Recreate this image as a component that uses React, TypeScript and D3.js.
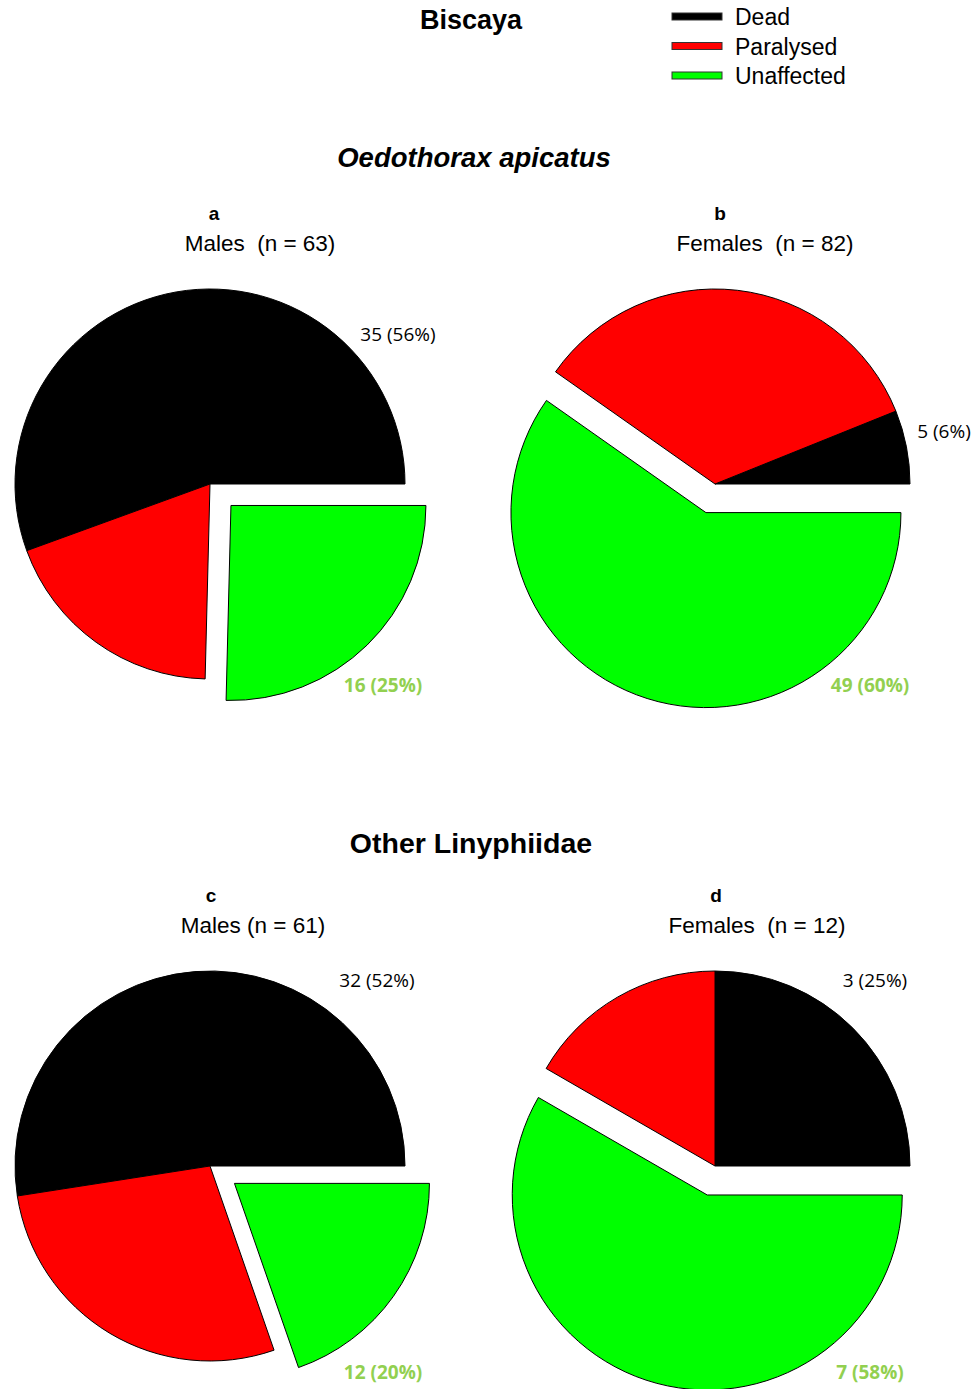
import React from "react";
import * as d3 from "d3";

// Outcome categories and colours
const categories = ["Dead", "Paralysed", "Unaffected"];
const colors = ["#000000", "#FF0000", "#00FF00"];

// Counts per panel (Dead, Paralysed, Unaffected)
const oedoMales = [35, 12, 16];
const oedoFemales = [5, 28, 49];
const otherMales = [32, 17, 12];
const otherFemales = [3, 2, 7];

const panelLetters = ["a", "b", "c", "d"];
const panelTitles = ["Males  (n = 63)", "Females  (n = 82)", "Males (n = 61)", "Females  (n = 12)"];
const deadLabels = ["35 (56%)", "5 (6%)", "32 (52%)", "3 (25%)"];
const unaffectedLabels = ["16 (25%)", "49 (60%)", "12 (20%)", "7 (58%)"];

const W = 977;
const H = 1389;
const R = 195;
const EXPLODE = 30;

type Panel = {
  values: number[];
  cx: number;
  cy: number;
  letterX: number;
  titleX: number;
  deadPos: [number, number];
  unPos: [number, number];
};

const panels: Panel[] = [
  { values: oedoMales, cx: 210, cy: 484, letterX: 214, titleX: 260, deadPos: [188, -148], unPos: [173, 203] },
  { values: oedoFemales, cx: 715, cy: 484, letterX: 720, titleX: 765, deadPos: [229, -51], unPos: [155, 203] },
  { values: otherMales, cx: 210, cy: 1166, letterX: 211, titleX: 253, deadPos: [167, -184], unPos: [173, 208] },
  { values: otherFemales, cx: 715, cy: 1166, letterX: 716, titleX: 757, deadPos: [160, -184], unPos: [155, 208] },
];

const pie = d3
  .pie<number>()
  .sort(null)
  .value((d) => d)
  .startAngle(Math.PI / 2)
  .endAngle(Math.PI / 2 - 2 * Math.PI);

const arc = d3.arc<d3.PieArcDatum<number>>().innerRadius(0).outerRadius(R);

const labelFont = "'Open Sans', 'Liberation Sans', sans-serif";
const titleFont = "'Liberation Sans', Arial, sans-serif";

function PiePanel({ p, i }: { p: Panel; i: number }) {
  const arcs = pie(p.values);
  const top = i < 2 ? 0 : 682;
  return (
    <g>
      <text x={p.letterX} y={220 + top} textAnchor="middle" fontFamily={titleFont} fontWeight="bold" fontSize={19}>
        {panelLetters[i]}
      </text>
      <text x={p.titleX} y={251 + top} textAnchor="middle" fontFamily={titleFont} fontSize={22.5} style={{ whiteSpace: "pre" }}>
        {panelTitles[i]}
      </text>
      <g transform={`translate(${p.cx},${p.cy})`}>
        {arcs.map((a, k) => {
          let dx = 0;
          let dy = 0;
          if (k === 2) {
            const mid = (a.startAngle + a.endAngle) / 2;
            dx = Math.sin(mid) * EXPLODE;
            dy = -Math.cos(mid) * EXPLODE;
          }
          return (
            <path
              key={k}
              d={arc(a) || ""}
              transform={`translate(${dx},${dy})`}
              fill={colors[k]}
              stroke="#000"
              strokeWidth={1}
            />
          );
        })}
        <text x={p.deadPos[0]} y={p.deadPos[1]} textAnchor="middle" dominantBaseline="middle" fontFamily={labelFont} fontSize={19} fill="#000">
          {deadLabels[i]}
        </text>
        <text x={p.unPos[0]} y={p.unPos[1]} textAnchor="middle" dominantBaseline="middle" fontFamily={labelFont} fontSize={19} fontWeight="bold" fill="#92D050">
          {unaffectedLabels[i]}
        </text>
      </g>
    </g>
  );
}

export default function App() {
  return (
    <svg width={W} height={H} style={{ position: "absolute", left: 0, top: 0, background: "#fff" }}>
      <rect width={W} height={H} fill="#fff" />
      <text x={471} y={29} textAnchor="middle" fontFamily={titleFont} fontWeight="bold" fontSize={27}>
        Biscaya
      </text>
      {categories.map((c, k) => (
        <g key={c}>
          <rect x={672} y={13 + k * 29.5} width={50} height={7} fill={colors[k]} stroke="#333" strokeWidth={1} />
          <text x={735} y={25 + k * 29.5} fontFamily={titleFont} fontSize={23}>
            {c}
          </text>
        </g>
      ))}
      <text x={474} y={167} textAnchor="middle" fontFamily={titleFont} fontWeight="bold" fontStyle="italic" fontSize={27.5}>
        Oedothorax apicatus
      </text>
      <text x={471} y={853} textAnchor="middle" fontFamily={titleFont} fontWeight="bold" fontSize={28.5}>
        Other Linyphiidae
      </text>
      {panels.map((p, i) => (
        <PiePanel key={i} p={p} i={i} />
      ))}
    </svg>
  );
}
